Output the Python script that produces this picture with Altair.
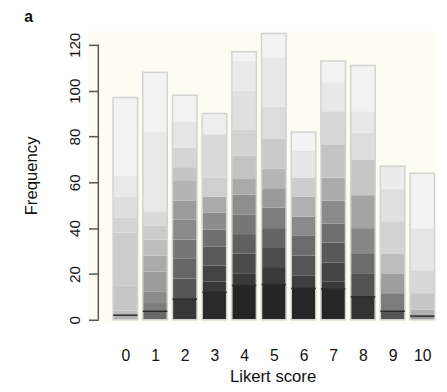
import altair as alt
import pandas as pd

scores = list(range(11))
totals = [97, 108, 98, 90, 117, 125, 82, 113, 111, 67, 64]
marker_values = [2, 3.7, 9, 12, 15, 15.4, 13.7, 13.4, 10, 3.7, 1.6]
y_ticks = [0, 20, 40, 60, 80, 100, 120]

band_tops = [
    [2, 4, 15, 38, 44.6, 53.7, 63, 97],
    [3.7, 7.3, 12.4, 21, 28, 35, 41, 47, 82, 108],
    [9, 18, 26.6, 35, 43.7, 52, 60.9, 66.6, 75, 86.6, 98],
    [12, 16.7, 23.7, 32, 39.4, 46.7, 53.7, 62, 81, 90],
    [15, 20.3, 28.8, 37.4, 46, 54.6, 61.7, 71.7, 83, 100, 113, 117],
    [15.4, 23, 31.7, 40, 49, 57.4, 66, 79, 93, 114.6, 125],
    [13.7, 19.4, 28, 36.6, 45, 53.7, 62, 73.7, 82],
    [13.4, 16.6, 25, 33.7, 42, 52, 62, 76.6, 91, 103.7, 113],
    [10, 20, 28.7, 40, 54.4, 70, 81.6, 91, 111],
    [3.7, 11.6, 20, 28.7, 43, 57.3, 67],
    [1.6, 4.4, 11.6, 21.6, 40, 64],
]
band_grays = [
    [175, 190, 198, 204, 212, 222, 233, 243],
    [105, 125, 140, 155, 170, 190, 203, 218, 233, 243],
    [55, 85, 102, 119, 138, 156, 180, 196, 213, 229, 242],
    [42, 56, 68, 89, 112, 140, 170, 207, 218, 238],
    [37, 58, 74, 96, 119, 142, 170, 195, 211, 224, 233, 243],
    [37, 58, 77, 100, 125, 154, 181, 203, 220, 232, 243],
    [38, 62, 85, 108, 138, 176, 205, 230, 243],
    [38, 57, 68, 88, 112, 139, 170, 196, 216, 232, 243],
    [51, 84, 108, 135, 164, 198, 220, 232, 243],
    [85, 124, 158, 189, 211, 224, 236],
    [153, 176, 198, 216, 230, 243],
]

half = 0.413
rows = []
for s, tops, grays in zip(scores, band_tops, band_grays):
    lo = 0
    for t, g in zip(tops, grays):
        rows.append(dict(score=s, x0=s - half, x1=s + half, y0=lo, y1=t,
                         color="#%02x%02x%02x" % (g, g, g)))
        lo = t
seg = pd.DataFrame(rows)
bars = pd.DataFrame(dict(score=scores,
                         x0=[s - half for s in scores],
                         x1=[s + half for s in scores],
                         total=totals, marker=marker_values))

xs = alt.Scale(domain=[-0.909, 10.496], nice=False, zero=False)
ys = alt.Scale(domain=[0, 126], nice=False, zero=False)
FONT = "Liberation Sans"

x_axis = alt.Axis(
    values=scores, title="Likert score", ticks=False, domain=False, grid=False,
    labelFontSize=16, labelPadding=29, labelColor="#111", labelFont=FONT,
    titleFont=FONT, titleFontSize=17, titleFontWeight="normal", titleColor="#111",
    titlePadding=5, titleX=177.5, format="d", zindex=1)
y_axis = alt.Axis(
    values=y_ticks, title="Frequency", domain=False, grid=False, tickSize=10,
    tickColor="#555", tickWidth=1.5, labelAngle=-90, labelFontSize=15.5,
    labelPadding=6, labelColor="#111", labelFont=FONT, titleFont=FONT,
    titleFontSize=17, titleFontWeight="normal", titleColor="#111", titlePadding=28,
    format="d", zindex=1)

panel = alt.Chart(pd.DataFrame({"x0": [-1.24], "x1": [10.496], "y0": [-1.5], "y1": [126]})).mark_rect(
    color="#fcfcf3"
).encode(
    x=alt.X("x0:Q", scale=xs, axis=x_axis),
    x2="x1:Q",
    y=alt.Y("y0:Q", scale=ys, axis=y_axis),
    y2="y1:Q",
)

axis_line = alt.Chart(pd.DataFrame({"y0": [0], "y1": [120]})).mark_rule(
    color="#555", strokeWidth=1.5
).encode(
    x=alt.value(0),
    y=alt.Y("y0:Q", scale=ys, axis=y_axis),
    y2="y1:Q",
)

bands = alt.Chart(seg).mark_rect().encode(
    x=alt.X("x0:Q", scale=xs, axis=x_axis),
    x2="x1:Q",
    y=alt.Y("y0:Q", scale=ys, axis=y_axis),
    y2="y1:Q",
    color=alt.Color("color:N", scale=None),
)

outline = alt.Chart(bars).mark_rect(fillOpacity=0, stroke="#d2d2d2", strokeWidth=1.5).encode(
    x=alt.X("x0:Q", scale=xs, axis=x_axis),
    x2="x1:Q",
    y=alt.Y("total:Q", scale=ys, axis=y_axis),
    y2=alt.datum(0),
)

markers = alt.Chart(bars).mark_rule(color="#2a2a2a", strokeWidth=1.5).encode(
    x=alt.X("x0:Q", scale=xs, axis=x_axis),
    x2="x1:Q",
    y=alt.Y("marker:Q", scale=ys, axis=y_axis),
)

label_a = alt.Chart(pd.DataFrame({"t": ["a"]})).mark_text(
    font=FONT, fontSize=16, fontWeight="bold", align="center", baseline="alphabetic", color="#111"
).encode(
    x=alt.value(-71), y=alt.value(-9), text="t:N"
)

chart = alt.layer(panel, axis_line, bands, outline, markers, label_a).properties(
    width=345, height=294,
    autosize=alt.AutoSizeParams(type="none"),
    padding={"left": 92, "top": 20, "right": 2, "bottom": 68},
    background="white",
).configure_view(stroke=None)

chart.save("out.html", embed_options={"renderer": "svg", "actions": False})
